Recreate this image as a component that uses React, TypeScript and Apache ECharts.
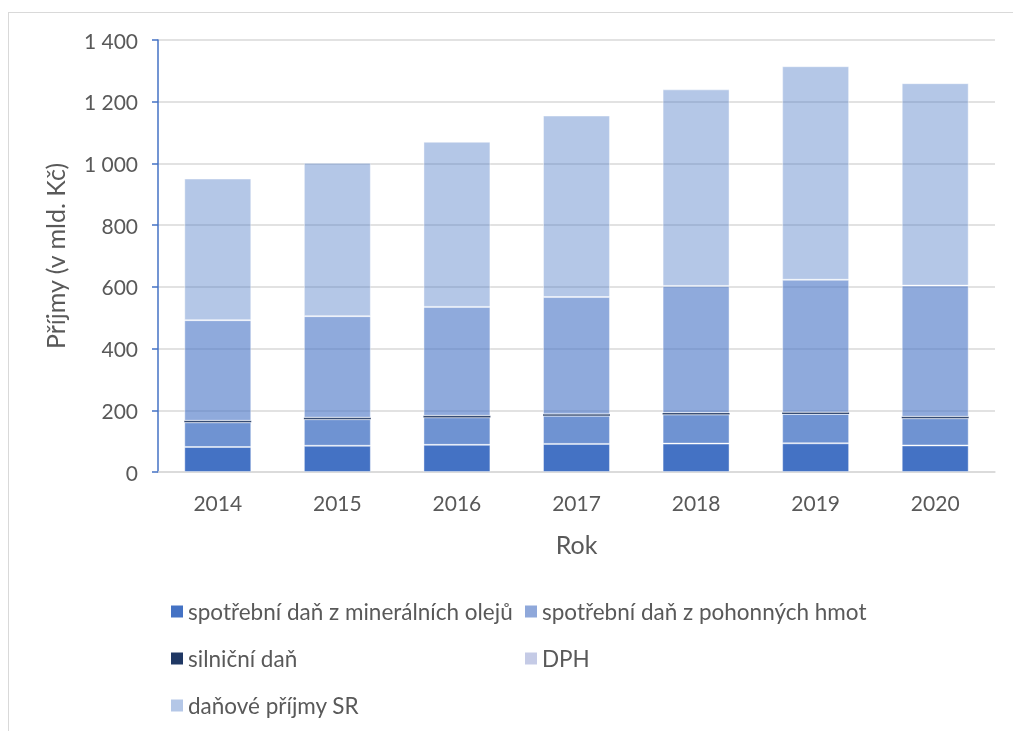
import React, { useEffect, useRef } from "react";
import * as echarts from "echarts";

const years = ["2014", "2015", "2016", "2017", "2018", "2019", "2020"];
const seriesNames = [
  "spotřební daň z minerálních olejů",
  "spotřební daň z pohonných hmot",
  "silniční daň",
  "DPH",
  "daňové příjmy SR",
];
const mineralniOleje = [81, 85, 88, 91, 92, 93, 86];
const pohonneHmoty = [80, 86, 89, 91, 94, 95, 88];
const silnicniDan = [5, 5, 5, 5, 5, 5, 5];
const dph = [326, 329, 353, 380, 412, 430, 425];
const danovePrijmySR = [459, 497, 535, 588, 637, 692, 656];
const yTicks = [0, 200, 400, 600, 800, 1000, 1200, 1400];

const barColors = [
  "rgba(68,114,196,1)",
  "rgba(68,114,196,0.77)",
  "rgba(32,56,100,0.9)",
  "rgba(68,114,196,0.6)",
  "rgba(68,114,196,0.4)",
];
const legendColors = ["#4472C4", "#8FA8DA", "#203864", "#C5CBE6", "#B4C7E7"];

const FONT = "Lato, 'Open Sans', sans-serif";

export default function App() {
  const ref = useRef<HTMLDivElement>(null);
  useEffect(() => {
    if (!ref.current) return;
    const chart = echarts.init(ref.current, undefined, { renderer: "svg" });
    const datasets = [mineralniOleje, pohonneHmoty, silnicniDan, dph, danovePrijmySR];
    const legendItem = (i: number) => ({
      name: seriesNames[i],
      itemStyle: { color: legendColors[i], borderWidth: 0 },
    });
    const legendCommon = {
      orient: "vertical" as const,
      top: 595,
      itemWidth: 12,
      itemHeight: 12,
      itemGap: 24,
      icon: "rect",
      textStyle: { fontFamily: FONT, fontSize: 22.5, color: "#595959" },
      selectedMode: false,
    };
    chart.setOption({
      animation: false,
      textStyle: { fontFamily: FONT },
      grid: { left: 158, right: 18, top: 40, bottom: 259, containLabel: false },
      legend: [
        { ...legendCommon, left: 166, data: [legendItem(0), legendItem(2), legendItem(4)] },
        { ...legendCommon, left: 520, data: [legendItem(1), legendItem(3)] },
      ],
      xAxis: {
        type: "category",
        data: years,
        name: "Rok",
        nameLocation: "middle",
        nameGap: 59,
        nameTextStyle: { fontFamily: FONT, fontSize: 25, color: "#595959" },
        axisLine: { lineStyle: { color: "#D9D9D9", width: 1.5 } },
        axisTick: { show: false },
        axisLabel: { fontFamily: FONT, fontSize: 21, color: "#595959", margin: 20 },
      },
      yAxis: {
        type: "value",
        min: 0,
        max: yTicks[yTicks.length - 1],
        interval: 200,
        name: "Příjmy (v mld. Kč)",
        nameLocation: "middle",
        nameGap: 91,
        nameTextStyle: { fontFamily: FONT, fontSize: 25, color: "#595959" },
        axisLine: { show: true, lineStyle: { color: "#4472C4", width: 1.5 } },
        axisTick: { show: true, length: 6, lineStyle: { color: "#4472C4", width: 1.5 } },
        axisLabel: {
          fontFamily: FONT,
          fontSize: 21,
          color: "#595959",
          margin: 20,
          formatter: (v: number) => String(v).replace(/\B(?=(\d{3})+(?!\d))/g, " "),
        },
        splitLine: { lineStyle: { color: "#D9D9D9", width: 1.5 } },
      },
      series: datasets.map((d, i) => ({
        name: seriesNames[i],
        type: "bar",
        stack: "total",
        barWidth: "56%",
        data: d,
        z: 3,
        itemStyle: {
          color: barColors[i],
          borderColor: "rgba(255,255,255,0.4)",
          borderWidth: i === 2 ? 0 : 1,
        },
      })),
    });
    return () => chart.dispose();
  }, []);
  return (
    <>
      <div
        style={{
          position: "fixed",
          left: 8,
          top: 12,
          width: 1020,
          height: 740,
          borderLeft: "1.5px solid #D9D9D9",
          borderTop: "1.5px solid #D9D9D9",
          pointerEvents: "none",
        }}
      />
      <div
        ref={ref}
        style={{ position: "fixed", left: 0, top: 0, width: 1013, height: 731 }}
      />
    </>
  );
}
